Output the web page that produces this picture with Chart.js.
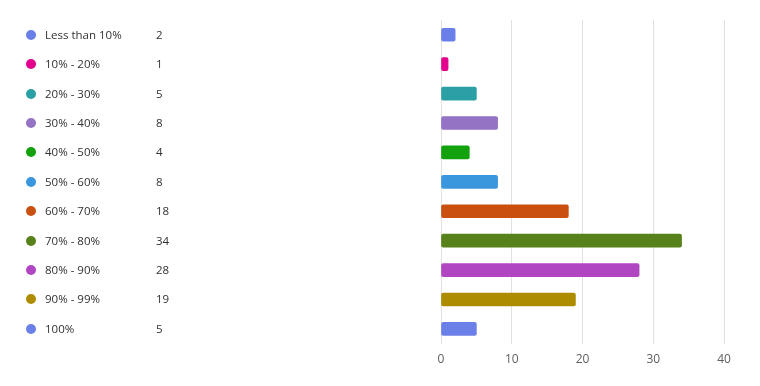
<!DOCTYPE html>
<html>
<head>
<meta charset="utf-8">
<script src="https://cdn.jsdelivr.net/npm/chart.js@4.4.0/dist/chart.umd.min.js"></script>
<style>
  html, body { margin: 0; padding: 0; background: #fff; }
  #wrap { position: relative; width: 760px; height: 386px; }
  #plot { position: absolute; left: 0; top: 0; }
  #legend { position: absolute; left: 0; top: 0; font-family: "Open Sans", "Noto Sans", sans-serif; font-size: 11.5px; color: #323130; }
  .row { position: absolute; left: 0; height: 16px; line-height: 16px; white-space: nowrap; }
  .dot { position: absolute; left: 26px; top: 3px; width: 10px; height: 10px; border-radius: 50%; }
  .lbl { position: absolute; left: 45px; top: 0; }
  .val { position: absolute; left: 156px; top: 0; }
</style>
</head>
<body>
<div id="wrap">
  <canvas id="plot" width="760" height="386"></canvas>
  <div id="legend"></div>
</div>
<script>
document.addEventListener("DOMContentLoaded", () => {
  const categories = ["Less than 10%", "10% - 20%", "20% - 30%", "30% - 40%", "40% - 50%",
    "50% - 60%", "60% - 70%", "70% - 80%", "80% - 90%", "90% - 99%", "100%"];
  const counts = [2, 1, 5, 8, 4, 8, 18, 34, 28, 19, 5];
  const colors = ["#6b7fe8", "#e3008c", "#2aa0a4", "#9473c4", "#13a10e", "#3a96dd",
    "#ca5010", "#57811b", "#b146c2", "#ae8c00", "#6b7fe8"];
  const xTicks = [0, 10, 20, 30, 40];

  const ctx = document.getElementById("plot").getContext("2d");

  const chart = new Chart(ctx, {
    type: "bar",
    data: {
      labels: categories,
      datasets: [{
        data: counts,
        backgroundColor: colors,
        borderWidth: 0,
        borderRadius: 2,
        borderSkipped: false,
        barThickness: 13
      }]
    },
    options: {
      indexAxis: "y",
      responsive: false,
      animation: false,
      layout: { padding: { left: 441, right: 36, top: 20, bottom: 10 } },
      plugins: { legend: { display: false }, tooltip: { enabled: false } },
      scales: {
        y: { display: false },
        x: {
          min: 0,
          max: 40,
          afterBuildTicks: (axis) => { axis.ticks = xTicks.map(v => ({ value: v })); },
          grid: { color: "#e1e1e1", drawTicks: false },
          border: { display: false },
          ticks: { color: "#605e5c", padding: 9, font: { family: "'Open Sans', 'Noto Sans', sans-serif", size: 12 } }
        }
      }
    }
  });

  // Left-hand legend, rows lined up with the bars
  const legend = document.getElementById("legend");
  categories.forEach((name, i) => {
    const y = chart.scales.y.getPixelForValue(i);
    const row = document.createElement("div");
    row.className = "row";
    row.style.top = (y - 8) + "px";
    row.innerHTML = `<span class="dot" style="background:${colors[i]}"></span>` +
      `<span class="lbl">${name}</span><span class="val">${counts[i]}</span>`;
    legend.appendChild(row);
  });
});
</script>
</body>
</html>
